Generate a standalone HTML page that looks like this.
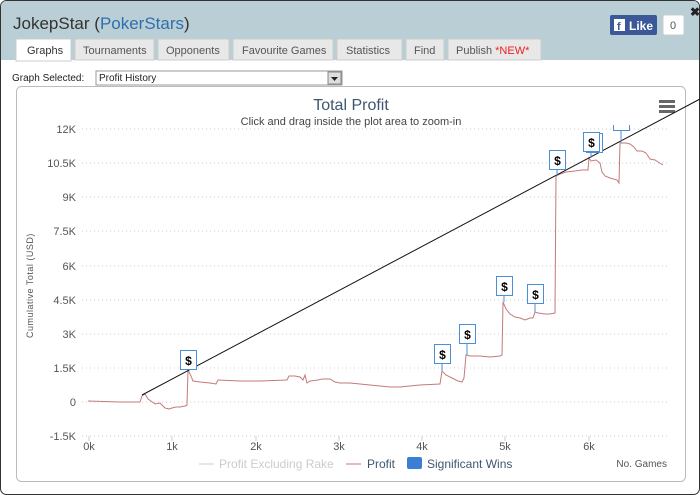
<!DOCTYPE html>
<html><head><meta charset="utf-8"><style>
html,body{margin:0;padding:0;background:#fff;}
body{width:700px;height:495px;overflow:hidden;position:relative;font-family:"Liberation Sans",sans-serif;}
</style></head><body>
<svg width="700" height="495" xmlns="http://www.w3.org/2000/svg" style="position:absolute;left:0;top:0" font-family="Liberation Sans, sans-serif">
<rect x="0.5" y="0.5" width="699" height="494" rx="6" fill="#fff" stroke="#333"/>
<path d="M1,60 V7 Q1,1 7,1 H693 Q699,1 699,7 V60 Z" fill="#b9ced5"/>
<text x="13" y="29" font-size="17" fill="#333">JokepStar (<tspan fill="#2f6fae">PokerStars</tspan>)</text>
<text x="690" y="16" font-size="12" font-weight="bold" fill="#222">✖</text>
<rect x="610" y="15" width="47" height="20" rx="2" fill="#3b5998"/>
<rect x="614" y="19" width="11" height="12" fill="#fff"/>
<text x="617" y="30" font-size="11" font-weight="bold" fill="#3b5998">f</text>
<text x="629" y="30" font-size="12" font-weight="bold" fill="#fff">Like</text>
<rect x="663" y="15" width="21" height="20" rx="2" fill="#fff" stroke="#ccc"/>
<text x="670" y="29" font-size="11" fill="#555">0</text>
<g font-size="11" fill="#333">
<rect x="16" y="39" width="55" height="22" fill="#fff" stroke="#ccc"/><text x="27" y="54">Graphs</text>
<rect x="75" y="39" width="79" height="21" fill="#e8e8e8" stroke="#ccc"/><text x="83" y="54" fill="#555">Tournaments</text>
<rect x="158" y="39" width="71" height="21" fill="#e8e8e8" stroke="#ccc"/><text x="166" y="54" fill="#555">Opponents</text>
<rect x="233" y="39" width="100" height="21" fill="#e8e8e8" stroke="#ccc"/><text x="242" y="54" fill="#555">Favourite Games</text>
<rect x="337" y="39" width="65" height="21" fill="#e8e8e8" stroke="#ccc"/><text x="346" y="54" fill="#555">Statistics</text>
<rect x="406" y="39" width="38" height="21" fill="#e8e8e8" stroke="#ccc"/><text x="414" y="54" fill="#555">Find</text>
<rect x="448" y="39" width="93" height="21" fill="#e8e8e8" stroke="#ccc"/><text x="456" y="54" fill="#555">Publish <tspan fill="#e22">*NEW*</tspan></text>
</g>
<text x="12" y="81" font-size="10" fill="#222">Graph Selected:</text>
<rect x="96" y="71" width="246" height="14" fill="#fff" stroke="#999"/>
<text x="99" y="81" font-size="10" fill="#222">Profit History</text>
<rect x="328" y="72" width="13" height="12" fill="#ddd" stroke="#888"/>
<path d="M331,77 h7 l-3.5,4z" fill="#222"/>
<rect x="16.5" y="86.5" width="669" height="395" rx="5" fill="#fff" stroke="#bbb"/>
<text x="351" y="110" font-size="16" fill="#3e576f" text-anchor="middle">Total Profit</text>
<text x="351" y="125" font-size="11" fill="#444" text-anchor="middle">Click and drag inside the plot area to zoom-in</text>
<g fill="#666"><rect x="659" y="100" width="16" height="3"/><rect x="659" y="105" width="16" height="3"/><rect x="659" y="110" width="16" height="3"/></g>
<g stroke="#ccc" stroke-dasharray="1,3">
<line x1="82" x2="669" y1="129" y2="129"/><line x1="82" x2="669" y1="163" y2="163"/><line x1="82" x2="669" y1="197" y2="197"/><line x1="82" x2="669" y1="231" y2="231"/><line x1="82" x2="669" y1="266" y2="266"/><line x1="82" x2="669" y1="300" y2="300"/><line x1="82" x2="669" y1="334" y2="334"/><line x1="82" x2="669" y1="368" y2="368"/><line x1="82" x2="669" y1="402" y2="402"/><line x1="82" x2="669" y1="436" y2="436"/>
</g>
<g stroke="#c0d0e0"><line x1="89" x2="89" y1="436" y2="441"/><line x1="172" x2="172" y1="436" y2="441"/><line x1="256" x2="256" y1="436" y2="441"/><line x1="339" x2="339" y1="436" y2="441"/><line x1="422" x2="422" y1="436" y2="441"/><line x1="505" x2="505" y1="436" y2="441"/><line x1="589" x2="589" y1="436" y2="441"/></g>
<g font-size="11" fill="#555" text-anchor="end">
<text x="76" y="133">12K</text><text x="76" y="167">10.5K</text><text x="76" y="201">9K</text><text x="76" y="235">7.5K</text><text x="76" y="270">6K</text><text x="76" y="304">4.5K</text><text x="76" y="338">3K</text><text x="76" y="372">1.5K</text><text x="76" y="406">0</text><text x="76" y="440">-1.5K</text>
</g>
<g font-size="11" fill="#555" text-anchor="middle">
<text x="89" y="450">0k</text><text x="172" y="450">1k</text><text x="256" y="450">2k</text><text x="339" y="450">3k</text><text x="422" y="450">4k</text><text x="505" y="450">5k</text><text x="589" y="450">6k</text>
</g>
<text transform="translate(33,338) rotate(-90)" font-size="9" fill="#555" letter-spacing="0.5">Cumulative Total (USD)</text>
<polyline fill="none" stroke="#c47a7a" stroke-width="1" points="88,401 120,402 140,402 142,396 145,394 148,399 151,401 155,404 160,403 165,408 169,409 172,408 176,407 180,407 185,406 187,405 188,370 191,376 193,381 200,382 210,383 216,384 218,380 240,381 260,381 287,380 289,376 295,376 300,377 303,380 305,375 307,383 310,381 318,380 322,379 330,379 335,382 340,383 350,383 360,384 370,385 380,386 390,387 400,387 420,385 440,384 442,371 446,375 452,378 458,381 462,382 464,378 466,355 470,356 480,356 490,357 500,356 502,355 503,302 506,309 510,314 515,317 520,318 525,320 530,318 533,318 535,312 538,313 545,314 550,314 555,313 556,176 560,174 566,172 575,171 582,170 588,170 589,158 591,161 596,160 600,163 602,172 605,176 610,178 617,180 619,183 620,143 626,143 630,144 634,147 637,151 642,151 646,153 648,156 650,159 655,160 658,162 663,165"/>
<line x1="142" y1="395" x2="700" y2="99" stroke="#111" stroke-width="1"/>
<g fill="#fff" stroke="#4a90d9" stroke-width="1" font-size="12" font-weight="bold" text-anchor="middle">
<line x1="188" y1="370" x2="188" y2="362"/><rect x="180.5" y="350.5" width="16" height="19"/><text x="188.5" y="365" fill="#000" stroke="none">$</text>
<line x1="442" y1="371" x2="442" y2="364"/><rect x="434.5" y="344.5" width="16" height="19"/><text x="442.5" y="359" fill="#000" stroke="none">$</text>
<line x1="467" y1="355" x2="467" y2="344"/><rect x="459.5" y="324.5" width="16" height="19"/><text x="467.5" y="339" fill="#000" stroke="none">$</text>
<line x1="504" y1="302" x2="504" y2="296"/><rect x="496.5" y="276.5" width="16" height="19"/><text x="504.5" y="291" fill="#000" stroke="none">$</text>
<line x1="535" y1="312" x2="535" y2="304"/><rect x="527.5" y="284.5" width="16" height="19"/><text x="535.5" y="299" fill="#000" stroke="none">$</text>
<line x1="557" y1="176" x2="557" y2="170"/><rect x="549.5" y="150.5" width="16" height="19"/><text x="557.5" y="165" fill="#000" stroke="none">$</text>
<rect x="586.5" y="133.5" width="16" height="19"/>
<line x1="591" y1="158" x2="591" y2="152"/><rect x="583.5" y="132.5" width="16" height="19"/><text x="591.5" y="147" fill="#000" stroke="none">$</text>
<line x1="621" y1="143" x2="621" y2="131"/><path d="M613.5,125 V130.5 H629.5 V125"/>
</g>
<g font-size="12">
<line x1="199" x2="214" y1="464" y2="464" stroke="#ccc"/><text x="219" y="468" fill="#ccc">Profit Excluding Rake</text>
<line x1="346" x2="361" y1="464" y2="464" stroke="#c47a7a"/><text x="367" y="468" fill="#3e576f">Profit</text>
<rect x="407" y="457" width="15" height="12" rx="2" fill="#3a7fd5"/><text x="427" y="468" fill="#3e576f">Significant Wins</text>
</g>
<text x="667" y="467" font-size="10" fill="#555" text-anchor="end">No. Games</text>
</svg>
</body></html>
